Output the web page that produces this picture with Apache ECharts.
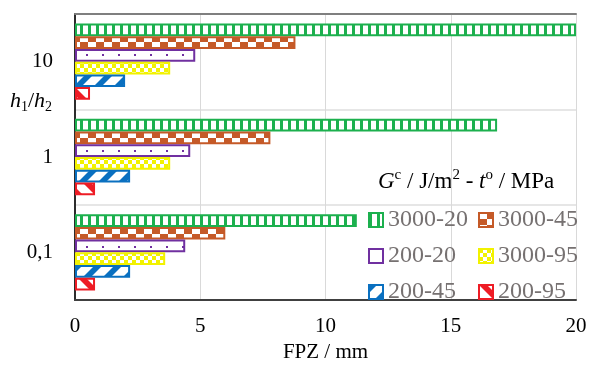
<!DOCTYPE html>
<html>
<head>
<meta charset="utf-8">
<script src="https://cdn.jsdelivr.net/npm/echarts@6/dist/echarts.min.js"></script>
<style>
  html, body { margin: 0; padding: 0; background: #fff; }
  #main { width: 590px; height: 368px; }
</style>
</head>
<body>
<div id="main"></div>
<script>
var ratios = ['0,1', '1', '10'];
var seriesNames = ['3000-20', '3000-45', '200-20', '3000-95', '200-45', '200-95'];
// FPZ (mm) per series, in order of ratios
var fpz3000_20 = [11.25, 16.85, 20];
var fpz3000_45 = [6.0, 7.8, 8.8];
var fpz200_20 = [4.4, 4.6, 4.8];
var fpz3000_95 = [3.6, 3.8, 3.8];
var fpz200_45 = [2.2, 2.2, 2.0];
var fpz200_95 = [0.8, 0.8, 0.6];
var xTicks = [0, 5, 10, 15, 20];

var FONT = 'Liberation Serif';

function tile(w, h, draw) {
    var c = document.createElement('canvas');
    c.width = w; c.height = h;
    var ctx = c.getContext('2d');
    ctx.fillStyle = '#fff';
    ctx.fillRect(0, 0, w, h);
    draw(ctx);
    return { image: c, repeat: 'repeat' };
}

var cGreen = '#1cb04e', cOrange = '#c55a28', cPurple = '#7030a0',
    cYellow = '#f2f200', cBlue = '#0a70c0', cRed = '#ee1c25';

var patGreen = tile(8, 12, function (ctx) {
    ctx.fillStyle = cGreen; ctx.fillRect(0, 0, 3, 12);
});
var patOrange = tile(16, 12, function (ctx) {
    ctx.fillStyle = cOrange;
    ctx.fillRect(8, 0, 8, 6); ctx.fillRect(0, 6, 8, 6);
});
var patPurple = tile(16, 96, function (ctx) {
    ctx.fillStyle = cPurple;
    ctx.fillRect(6, 54, 2, 2);
});
var patYellow = tile(8, 8, function (ctx) {
    ctx.fillStyle = cYellow;
    ctx.fillRect(0, 0, 4, 4); ctx.fillRect(4, 4, 4, 4);
});
var patBlue = tile(20, 20, function (ctx) {
    ctx.fillStyle = cBlue;
    [-20, 0, 20].forEach(function (k) {
        ctx.beginPath();
        ctx.moveTo(k, 20); ctx.lineTo(k + 8, 20); ctx.lineTo(k + 28, 0); ctx.lineTo(k + 20, 0);
        ctx.closePath(); ctx.fill();
    });
});
var patRed = tile(20, 20, function (ctx) {
    ctx.fillStyle = cRed;
    [-20, 0, 20].forEach(function (k) {
        ctx.beginPath();
        ctx.moveTo(k, 0); ctx.lineTo(k + 8, 0); ctx.lineTo(k + 28, 20); ctx.lineTo(k + 20, 20);
        ctx.closePath(); ctx.fill();
    });
});

var values = [fpz3000_20, fpz3000_45, fpz200_20, fpz3000_95, fpz200_45, fpz200_95];
var fills = [patGreen, patOrange, patPurple, patYellow, patBlue, patRed];
var borders = [cGreen, cOrange, cPurple, cYellow, cBlue, cRed];

var series = seriesNames.map(function (name, i) {
    return {
        name: name,
        type: 'bar',
        data: values[i],
        barGap: '0%',
        barCategoryGap: '20%',
        clip: false,
        itemStyle: { color: fills[i], borderColor: borders[i], borderWidth: 2 }
    };
});

var myChart = echarts.init(document.getElementById('main'));
var legendText = { fontFamily: FONT, fontSize: 24, color: '#767171' };
var option = {
    animation: false,
    grid: { left: 75, right: 14, top: 14, bottom: 66 },
    legend: [{
        orient: 'vertical', left: 363, top: 203,
        itemWidth: 14, itemHeight: 14, itemGap: 12,
        icon: 'rect', textStyle: legendText,
        data: ['3000-20', '200-20', '200-45']
    }, {
        orient: 'vertical', left: 473, top: 203,
        itemWidth: 14, itemHeight: 14, itemGap: 12,
        icon: 'rect', textStyle: legendText,
        data: ['3000-45', '3000-95', '200-95']
    }],
    xAxis: [{
        type: 'value', min: xTicks[0], max: xTicks[xTicks.length - 1], interval: 5,
        name: 'FPZ / mm', nameLocation: 'middle', nameGap: 42,
        nameTextStyle: { fontFamily: FONT, fontSize: 21, color: '#000' },
        axisLine: { show: true, lineStyle: { color: '#404040', width: 2 } },
        axisTick: { show: false },
        axisLabel: { fontFamily: FONT, fontSize: 21, color: '#000', margin: 16 },
        splitLine: { lineStyle: { color: '#d9d9d9', width: 1 } }
    }, {
        type: 'value', position: 'top', min: 0, max: 20,
        axisLine: { show: true, lineStyle: { color: '#7f7f7f', width: 2 } },
        axisTick: { show: false }, axisLabel: { show: false }, splitLine: { show: false }
    }],
    yAxis: [{
        type: 'category', data: ratios,
        axisLine: { show: true, lineStyle: { color: '#404040', width: 2 } },
        axisTick: { show: false },
        axisLabel: { fontFamily: FONT, fontSize: 21, color: '#000', margin: 22 },
        splitLine: { show: true, lineStyle: { color: '#e6e6e6', width: 2 } }
    }, {
        type: 'category', data: ratios, position: 'right',
        axisLine: { show: true, lineStyle: { color: '#262626', width: 1.5 } },
        axisTick: { show: false }, axisLabel: { show: false }
    }],
    graphic: [{
        type: 'text', left: 10, top: 90,
        style: {
            text: '{i|h}{s|1}{n|/}{i|h}{s|2}',
            rich: {
                i: { fontFamily: FONT, fontStyle: 'italic', fontSize: 22, lineHeight: 26, fill: '#000' },
                n: { fontFamily: FONT, fontSize: 22, lineHeight: 26, fill: '#000' },
                s: { fontFamily: FONT, fontSize: 14, lineHeight: 14, verticalAlign: 'bottom', fill: '#000' }
            }
        }
    }, {
        type: 'text', left: 378, top: 168,
        style: {
            text: '{i|G}{p|c}{n| / J/m}{p|2}{n| - }{i|t}{p|o}{n| / MPa}',
            rich: {
                i: { fontFamily: FONT, fontStyle: 'italic', fontSize: 23, lineHeight: 28, fill: '#000' },
                n: { fontFamily: FONT, fontSize: 23, lineHeight: 28, fill: '#000' },
                p: { fontFamily: FONT, fontSize: 15, lineHeight: 16, verticalAlign: 'top', fill: '#000' }
            }
        }
    }],
    series: series
};
myChart.setOption(option);
</script>
</body>
</html>
